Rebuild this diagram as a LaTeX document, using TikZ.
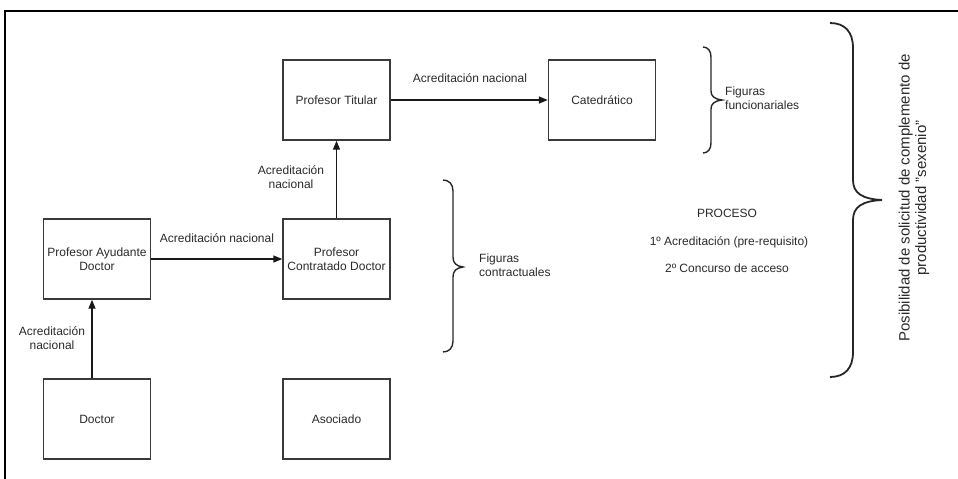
\documentclass[tikz,border=0pt]{standalone}
\usepackage{fontspec}
\setmainfont{Liberation Sans}
\usetikzlibrary{arrows.meta}
\definecolor{txt}{HTML}{2A2A2A}
\definecolor{boxc}{HTML}{3A3A3A}
\tikzset{
  box/.style={draw=boxc, line width=1.4pt, minimum width=107pt, minimum height=80pt, inner sep=0pt, align=center, text=txt, font=\fontsize{12}{14}\selectfont},
  lbl/.style={text=txt, align=center, inner sep=0pt, font=\fontsize{12}{14}\selectfont},
  conn/.style={draw=black!90, line width=1.4pt, -{Triangle[length=9pt,width=7pt]}},
  brc/.style={draw=black!85, line width=1.4pt},
}
\begin{document}
\begin{tikzpicture}[x=1pt,y=-1pt]
\useasboundingbox (0,0) rectangle (958,479);
% frame
\draw[line width=2pt] (958,11) -- (5,11) -- (5,479);
% boxes
\node[box] (pt) at (336.5,100) {Profesor Titular};
\node[box] (cat) at (602,100) {Catedrático};
\node[box] (pad) at (97,259) {Profesor Ayudante\\Doctor};
\node[box] (pcd) at (336.5,259) {Profesor\\Contratado Doctor};
\node[box] (doc) at (97,419) {Doctor};
\node[box] (aso) at (336.5,419) {Asociado};
% connectors
\coordinate (ax) at (92,0);
\draw[conn] (pt.east) -- (cat.west);
\draw[conn] (pad.east) -- (pcd.west);
\draw[conn] (pcd.north) -- (pt.south);
\draw[conn] (doc.north -| ax) -- (pad.south -| ax);
% labels
\node[lbl] (l1) at (470,78) {Acreditación nacional};
\node[lbl] (l2) at (217,238) {Acreditación nacional};
\node[lbl] (l3) at (291,177) {Acreditación\\nacional};
\node[lbl] (l4) at (52,338) {Acreditación\\nacional};
% braces
\draw[brc] (703,47) .. controls (708,47) and (711,51) .. (711,57) -- (711,91) .. controls (711,96) and (714,99) .. (722,100) .. controls (714,101) and (711,104) .. (711,109) -- (711,143) .. controls (711,149) and (708,153) .. (703,153);
\draw[brc] (443,180) .. controls (449,180) and (453,184) .. (453,191) -- (453,257) .. controls (453,263) and (456,266) .. (463,267) .. controls (456,268) and (453,271) .. (453,277) -- (453,341) .. controls (453,348) and (449,352) .. (443,352);
\draw[brc, line width=1.8pt] (830,23) .. controls (845,23) and (853,32) .. (853,48) -- (853,180) .. controls (853,193) and (862,199) .. (882,200) .. controls (862,201) and (853,207) .. (853,220) -- (853,352) .. controls (853,368) and (845,377) .. (830,377);
% brace texts
\node[lbl, align=left, anchor=west] (ff) at (725,98) {Figuras\\funcionariales};
\node[lbl, align=left, anchor=west] (fc) at (479,265) {Figuras\\contractuales};
\node[lbl] (p0) at (727,213) {PROCESO};
\node[lbl] (p1) at (729,242) {1º Acreditación (pre-requisito)};
\node[lbl] (p2) at (727,268) {2º Concurso de acceso};
\node[lbl, rotate=90, font=\fontsize{15}{16.5}\selectfont] (sx) at (914,198) {Posibilidad de solicitud de complemento de\\productividad "sexenio"};
\end{tikzpicture}
\end{document}
